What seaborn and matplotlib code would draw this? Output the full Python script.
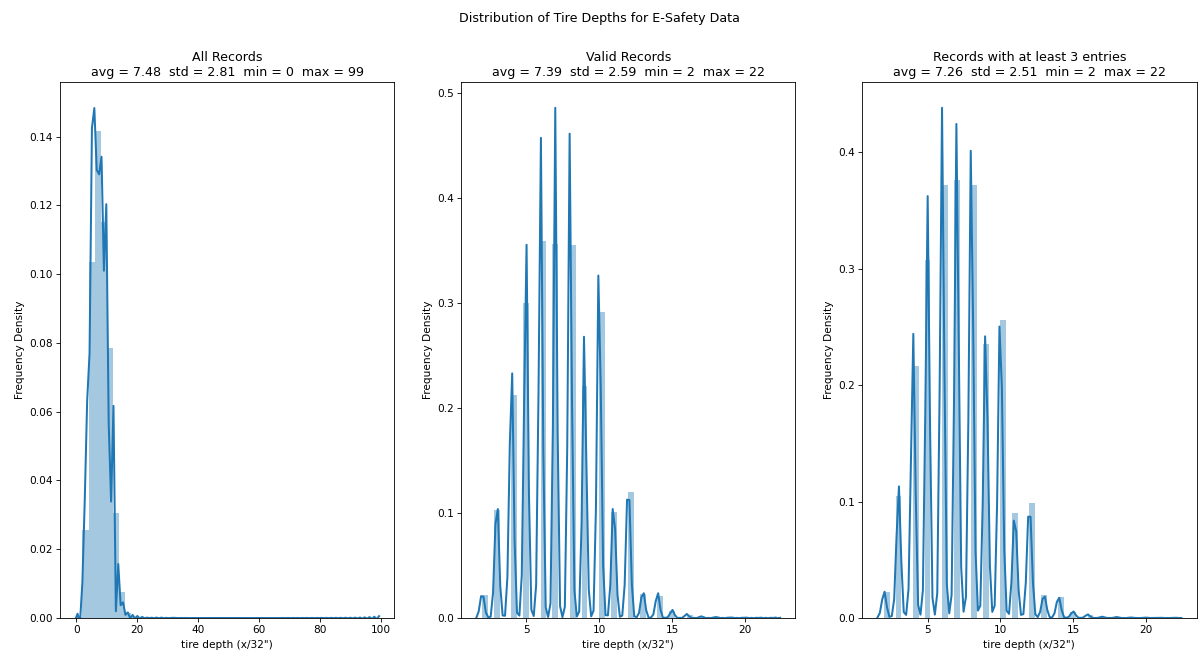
import numpy as np
import pandas as pd
import matplotlib
matplotlib.use("Agg")
import matplotlib.pyplot as plt
import seaborn as sns

# Tire depth readings (x/32") and the number of records at each reading
depth_all = [0, 1, 2, 3, 4, 5, 6, 7, 8, 9, 10, 11, 12, 13, 14, 15, 16, 17, 18,
             19, 20, 21, 22, 24, 26, 28, 32, 40, 50, 64, 80, 96, 98, 99]
count_all = [1580, 1050, 46700, 219100, 445500, 628400, 724000, 744700, 735000,
             458600, 605400, 209200, 263200, 52600, 59900, 18400, 9500, 4200,
             2600, 1600, 1050, 660, 530, 330, 260, 200, 330, 100, 80, 66, 66,
             100, 165, 330]

depth_valid = [2, 3, 4, 5, 6, 7, 8, 9, 10, 11, 12, 13, 14, 15, 16, 17, 18, 19, 20, 21, 22]
count_valid = [30200, 142300, 293600, 414100, 495200, 491500, 490000, 305400,
               402200, 138900, 165600, 31900, 29300, 8900, 4200, 1700, 1070, 600,
               420, 300, 300]

depth_min3 = [2, 3, 4, 5, 6, 7, 8, 9, 10, 11, 12, 13, 14, 15, 16, 17, 18, 19, 20, 21, 22]
count_min3 = [15300, 73000, 150600, 214100, 259000, 262000, 259300, 164000,
              178400, 62800, 69100, 13800, 12400, 3800, 2000, 700, 500, 270,
              210, 140, 140]

panel_names = ["All Records", "Valid Records", "Records with at least 3 entries"]
panel_stats = ["avg = 7.48  std = 2.81  min = 0  max = 99",
               "avg = 7.39  std = 2.59  min = 2  max = 22",
               "avg = 7.26  std = 2.51  min = 2  max = 22"]

BLUE = "#1f77b4"
DPI = 76


def binned_fft_kde(values, weights, gridsize=100, cut=3):
    """Gaussian KDE on a power-of-two grid using linear binning and an FFT,
    with Scott's reference bandwidth."""
    x = np.asarray(values, float)
    w = np.asarray(weights, float)
    n = w.sum()
    mean = np.sum(w * x) / n
    std = np.sqrt(np.sum(w * (x - mean) ** 2) / (n - 1))
    cum = np.cumsum(w) / n
    q25 = x[np.searchsorted(cum, 0.25)]
    q75 = x[np.searchsorted(cum, 0.75)]
    spread = min(std, (q75 - q25) / 1.349)
    bw = 1.059 * spread * n ** -0.2

    m = int(2 ** np.ceil(np.log2(gridsize)))
    a = x.min() - cut * bw
    b = x.max() + cut * bw
    grid, delta = np.linspace(a, b, m, retstep=True)

    pos = (x - a) / delta
    li = pos.astype(int)
    rem = pos - li
    binned = np.zeros(m + 1)
    np.add.at(binned, li, w * (1 - rem))
    np.add.at(binned, li + 1, w * rem)
    binned = binned[:m] / (delta * n)

    j = np.arange(m // 2 + 1)
    fac = np.exp(-(j ** 2) * 2 * (np.pi * bw / (b - a)) ** 2)
    fac /= 1 - (j * np.pi / m) ** 2 / 3.0
    dens = np.fft.irfft(np.fft.rfft(binned) * fac, m)
    return grid, dens


fig, axes = plt.subplots(1, 3, figsize=(1198 / DPI, 652 / DPI), dpi=DPI)
fig.subplots_adjust(left=60 / 1198, right=1196.5 / 1198,
                    bottom=1 - 618 / 652, top=1 - 82.3 / 652, wspace=0.2)

panels = [(depth_all, count_all), (depth_valid, count_valid), (depth_min3, count_min3)]
for ax, (depths, counts), name, stats in zip(axes, panels, panel_names, panel_stats):
    df = pd.DataFrame({"depth": depths, "records": counts})
    edges = list(np.linspace(min(depths), max(depths), 51))
    sns.histplot(data=df, x="depth", weights="records", bins=edges, stat="density",
                 color=BLUE, alpha=0.4, linewidth=0, ax=ax)
    gx, gy = binned_fft_kde(depths, counts)
    kde_df = pd.DataFrame({"depth": gx, "density": gy})
    sns.lineplot(data=kde_df, x="depth", y="density", color=BLUE, linewidth=1.9, ax=ax)
    ax.set_ylim(bottom=0)
    ax.set_title(f"{name}\n{stats}", fontsize=12)
    ax.set_xlabel('tire depth (x/32")')
    ax.set_ylabel("Frequency Density")

fig.suptitle("Distribution of Tire Depths for E-Safety Data", fontsize=12, y=0.982)
fig.savefig("out.png", dpi=DPI)
